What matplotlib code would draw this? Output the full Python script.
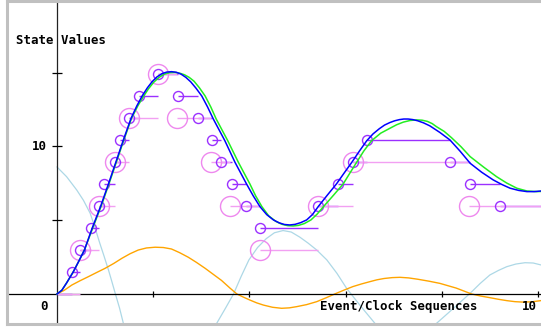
import matplotlib
matplotlib.use('Agg')
from matplotlib import pyplot as plt

# continuous trajectories
blue_t = [0, 0.1, 0.2, 0.34, 0.45, 0.57, 0.73, 0.91, 1.07, 1.22, 1.38, 1.54, 1.66, 1.77,
          1.88, 1.98, 2.08, 2.18, 2.28, 2.38, 2.48, 2.58, 2.68, 2.78, 2.89, 3.01, 3.13,
          3.25, 3.49, 3.70, 3.94, 4.08, 4.22, 4.36, 4.50, 4.62, 4.73, 4.84, 4.95, 5.07,
          5.19, 5.31, 5.43, 5.62, 5.81, 5.97, 6.13, 6.29, 6.44, 6.57, 6.70, 6.81, 6.92,
          7.02, 7.12, 7.21, 7.30, 7.40, 7.50, 7.62, 7.75, 7.96, 8.17, 8.38, 8.59, 8.83,
          9.07, 9.25, 9.42, 9.60, 9.77, 9.92, 10.06]
blue_v = [0, 0.25, 0.75, 1.51, 2.2, 2.98, 4.45, 5.97, 7.46, 8.9, 10.44, 11.91, 12.75, 13.42,
          13.98, 14.4, 14.72, 14.93, 15.04, 15.07, 15.03, 14.9, 14.68, 14.38, 13.95, 13.42,
          12.68, 11.86, 10.39, 8.93, 7.46, 6.65, 5.92, 5.38, 5.02, 4.82, 4.71, 4.68, 4.72,
          4.84, 5.02, 5.38, 5.92, 6.7, 7.46, 8.2, 8.93, 9.7, 10.39, 10.85, 11.2, 11.45,
          11.62, 11.74, 11.82, 11.86, 11.86, 11.82, 11.74, 11.6, 11.4, 10.95, 10.44, 9.68,
          8.86, 8.25, 7.73, 7.42, 7.17, 7.02, 6.94, 6.94, 6.98]

green_t = [0, 0.1, 0.2, 0.34, 0.45, 0.57, 0.74, 0.92, 1.08, 1.23, 1.39, 1.55, 1.68, 1.79,
           1.90, 2.01, 2.12, 2.23, 2.34, 2.45, 2.55, 2.65, 2.75, 2.85, 2.96, 3.08, 3.20,
           3.31, 3.55, 3.77, 4.01, 4.13, 4.26, 4.40, 4.55, 4.68, 4.80, 4.91, 5.02, 5.14,
           5.28, 5.41, 5.54, 5.75, 5.95, 6.09, 6.23, 6.38, 6.54, 6.73, 6.92, 7.06, 7.2,
           7.34, 7.48, 7.59, 7.70, 7.80, 7.89, 8.05, 8.2, 8.40, 8.59, 8.87, 9.14, 9.35,
           9.56, 9.77, 9.97, 10.06]
green_v = [0, 0.25, 0.75, 1.51, 2.2, 2.98, 4.45, 5.97, 7.46, 8.9, 10.44, 11.91, 12.75, 13.35,
           13.9, 14.35, 14.68, 14.9, 15.0, 15.02, 14.97, 14.86, 14.68, 14.42, 13.98, 13.42,
           12.66, 11.86, 10.39, 8.93, 7.46, 6.65, 5.92, 5.3, 4.92, 4.72, 4.63, 4.61, 4.65,
           4.77, 5.02, 5.42, 5.92, 6.7, 7.46, 8.2, 8.93, 9.7, 10.39, 10.9, 11.23, 11.47,
           11.65, 11.76, 11.8, 11.78, 11.7, 11.55, 11.34, 11.02, 10.6, 9.98, 9.31, 8.6,
           7.95, 7.52, 7.17, 6.98, 6.94, 6.95]

orange_t = [0, 0.15, 0.31, 0.48, 0.65, 0.82, 1.0, 1.18, 1.35, 1.52, 1.69, 1.86, 2.04, 2.21,
            2.38, 2.55, 2.73, 2.90, 3.08, 3.25, 3.42, 3.60, 3.74, 3.88, 4.01, 4.15, 4.29,
            4.48, 4.67, 4.83, 4.98, 5.19, 5.40, 5.60, 5.81, 5.98, 6.15, 6.33, 6.51, 6.65,
            6.8, 6.97, 7.13, 7.31, 7.5, 7.73, 7.96, 8.13, 8.3, 8.46, 8.62, 8.81, 9.0, 9.18,
            9.35, 9.52, 9.69, 9.87, 10.06]
orange_v = [0, 0.25, 0.61, 0.9, 1.17, 1.45, 1.74, 2.07, 2.42, 2.73, 2.98, 3.12, 3.17, 3.15,
            3.05, 2.8, 2.49, 2.14, 1.74, 1.33, 0.92, 0.39, 0.0, -0.22, -0.41, -0.6, -0.75,
            -0.9, -0.97, -0.94, -0.86, -0.72, -0.52, -0.25, 0.05, 0.28, 0.5, 0.68, 0.84,
            0.96, 1.05, 1.11, 1.13, 1.09, 1.0, 0.87, 0.72, 0.56, 0.4, 0.2, 0.0, -0.14,
            -0.25, -0.36, -0.45, -0.52, -0.55, -0.53, -0.45]

cyan_t = [0, 0.2, 0.41, 0.55, 0.69, 0.79, 0.89, 0.98, 1.07, 1.14, 1.21, 1.30, 1.38, 1.5,
          1.6, 1.75, 1.9, 2.07, 2.25, 2.42, 2.6, 2.8, 3.0, 3.16, 3.32, 3.50, 3.67, 3.83,
          3.99, 4.17, 4.35, 4.52, 4.70, 4.87, 5.05, 5.22, 5.40, 5.61, 5.82, 6.02, 6.32,
          6.61, 6.75, 6.9, 7.07, 7.25, 7.42, 7.6, 7.75, 7.89, 8.06, 8.24, 8.42, 8.59, 8.8,
          9.0, 9.18, 9.35, 9.54, 9.73, 9.9, 10.06]
cyan_v = [8.61, 7.95, 7.05, 6.35, 5.47, 4.5, 3.44, 2.55, 1.63, 0.85, 0.05, -0.95, -1.99,
          -3.1, -4.0, -4.8, -5.3, -5.6, -5.7, -5.55, -5.1, -4.4, -3.6, -2.8, -1.99, -0.98,
          0.0, 1.2, 2.31, 3.15, 3.75, 4.15, 4.3, 4.2, 3.85, 3.45, 2.98, 2.31, 1.4, 0.39,
          -0.85, -1.99, -2.4, -2.8, -3.0, -3.1, -3.0, -2.7, -2.35, -1.99, -1.5, -0.98,
          -0.45, 0.05, 0.72, 1.29, 1.6, 1.85, 2.03, 2.12, 2.1, 1.97]

# quantized states: event times and held levels
qa_t = [0, 0.31, 0.48, 0.71, 0.88, 0.98, 1.21, 1.32, 1.50, 1.70, 2.10, 2.51, 2.93, 3.22,
        3.42, 3.63, 3.93, 4.22, 5.43, 5.85, 6.15, 6.45, 8.17, 8.59, 9.20]
qa_v = [0, 1.49, 2.98, 4.47, 5.96, 7.45, 8.94, 10.43, 11.92, 13.41, 14.90, 13.41, 11.92,
        10.43, 8.94, 7.45, 5.96, 4.47, 5.96, 7.45, 8.94, 10.43, 8.94, 7.45, 5.96]
qb_t = [0, 0.48, 0.88, 1.21, 1.50, 2.10, 2.49, 3.20, 3.60, 4.22, 5.43, 6.15, 8.57]
qb_v = [0, 2.98, 5.96, 8.94, 11.92, 14.90, 11.92, 8.94, 5.96, 2.98, 5.96, 8.94, 5.96]

x_ticks = [2, 4, 6, 8, 10]
y_ticks = [5, 10, 15]

XMIN, XMAX = -1.029, 10.062
YMIN, YMAX = -2.068, 19.84

fig = plt.figure(figsize=(5.41, 3.32), dpi=100)
ax = fig.add_axes([0.01386, 0.0226, 0.9861, 0.9735])
ax.set_xlim(XMIN, XMAX)
ax.set_ylim(YMIN, YMAX)
ax.set_xticks([])
ax.set_yticks([])
for s in ['left', 'top', 'bottom']:
    ax.spines[s].set_color('#c0c0c0')
    ax.spines[s].set_linewidth(2.2)
ax.spines['right'].set_visible(False)

ax.axhline(0, color='black', lw=0.9, zorder=1.5)
ax.axvline(0, color='#222222', lw=0.9, zorder=1.5)
ax.plot(x_ticks, [0] * len(x_ticks), ls='none', marker='|', ms=5, mew=0.9,
        color='black', zorder=1.6)
ax.plot([0] * len(y_ticks), y_ticks, ls='none', marker='_', ms=6.5, mew=0.9,
        color='black', zorder=1.6)

ax.plot(cyan_t, cyan_v, color='#add8e6', lw=0.9, zorder=1)
ax.plot(orange_t, orange_v, color='#ffa500', lw=1.0, zorder=1.2)

# hold lines
ax.hlines(qa_v, qa_t, qa_t[1:] + [XMAX], color='#9b30ff', lw=1.0, zorder=2)
ax.hlines(qb_v, qb_t, qb_t[1:] + [XMAX], color='#f2a0f2', lw=1.0, zorder=3)
ax.plot(qb_t[1:], qb_v[1:], ls='none', marker='o', ms=14.4, mfc='none',
        mec='#ee88ee', mew=1.0, zorder=3)
ax.plot(qa_t[1:], qa_v[1:], ls='none', marker='o', ms=7.2, mfc='none',
        mec='#9b30ff', mew=1.0, zorder=4)

ax.plot(green_t, green_v, color='#22ee22', lw=1.1, zorder=5)
ax.plot(blue_t, blue_v, color='#0000ff', lw=1.1, zorder=6)

fnt = dict(family='DejaVu Sans Mono', weight='bold', size=8.9, color='black')
ax.text(-0.85, 17.15, 'State Values', ha='left', va='center', **fnt)
ax.text(-0.21, 10, '10', ha='right', va='center', **fnt)
ax.text(-0.19, -0.88, '0', ha='right', va='center', **fnt)
ax.text(8.75, -0.88, 'Event/Clock Sequences', ha='right', va='center', **fnt)
ax.text(9.98, -0.88, '10', ha='right', va='center', **fnt)

fig.savefig('out.png', dpi=100)
